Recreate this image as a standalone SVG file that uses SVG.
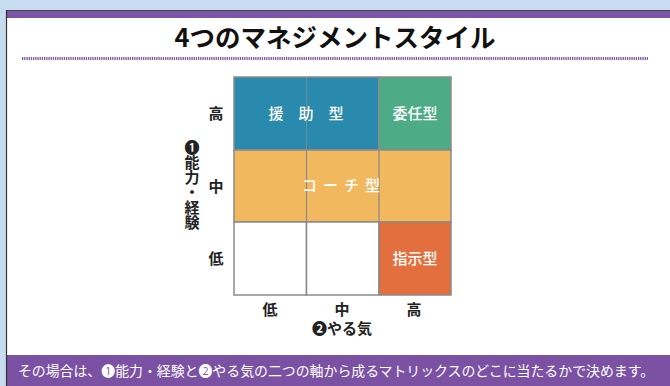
<svg xmlns="http://www.w3.org/2000/svg" width="670" height="386" viewBox="0 0 670 386">
<style>
.jp{font-family:"Noto Sans CJK JP","Noto Sans",sans-serif;}
.ax{font-size:15px;font-weight:700;fill:#222;text-anchor:middle;}
.cl{font-size:15px;font-weight:500;fill:#fff;text-anchor:middle;}
.cell{stroke:#8a8a8a;stroke-width:1.5;}
</style>
<rect x="0" y="0" width="670" height="386" fill="#c8dcef"/>
<rect x="6" y="10" width="664" height="376" fill="#fff"/>
<rect x="6" y="10" width="664" height="8" fill="#7d55a6"/>
<line x1="6" y1="10.5" x2="670" y2="10.5" stroke="#444" stroke-width="1"/>
<rect x="6" y="355" width="664" height="31" fill="#7b52a3"/>
<line x1="6.5" y1="10" x2="6.5" y2="386" stroke="#333" stroke-width="1.2"/>
<text class="jp" x="335" y="47" font-size="25.5" font-weight="700" fill="#111" text-anchor="middle">4つのマネジメントスタイル</text>
<line x1="22" y1="58.5" x2="648" y2="58.5" stroke="#7e58aa" stroke-width="3" stroke-dasharray="1.3 0.9"/>
<g id="cell-enjo">
<rect class="cell" x="234" y="77" width="145" height="73" fill="#2a8aad"/>
<line x1="306.5" y1="77" x2="306.5" y2="150" stroke="#6f8f9c" stroke-width="1"/>
<text class="jp cl" x="306" y="119">援　助　型</text>
</g>
<g id="cell-inin">
<rect class="cell" x="379" y="77" width="72" height="73" fill="#4dab86"/>
<text class="jp cl" x="415" y="119">委任型</text>
</g>
<g id="cell-coach">
<rect class="cell" x="234" y="150" width="217" height="72" fill="#f1b85e"/>
<line x1="306.5" y1="150" x2="306.5" y2="222" stroke="#8a8a8a" stroke-width="1.2"/>
<line x1="379" y1="150" x2="379" y2="222" stroke="#8a8a8a" stroke-width="1.2"/>
<text class="jp cl" x="344" y="191" letter-spacing="6">コーチ型</text>
</g>
<g id="cell-low1"><rect class="cell" x="234" y="222" width="72.5" height="73" fill="#fff"/></g>
<g id="cell-low2"><rect class="cell" x="306.5" y="222" width="72.5" height="73" fill="#fff"/></g>
<g id="cell-shiji">
<rect class="cell" x="379" y="222" width="72" height="73" fill="#e46f3e"/>
<text class="jp cl" x="415" y="264">指示型</text>
</g>
<g id="y-axis">
<text class="jp ax" x="216" y="119">高</text>
<text class="jp ax" x="216" y="192">中</text>
<text class="jp ax" x="216" y="264">低</text>
<text class="jp" x="192" y="140" font-size="15" font-weight="700" fill="#222" style="writing-mode:vertical-rl;glyph-orientation-vertical:0" text-anchor="start">❶能力・経験</text>
</g>
<g id="x-axis">
<text class="jp ax" x="270" y="315">低</text>
<text class="jp ax" x="342" y="315">中</text>
<text class="jp ax" x="414" y="315">高</text>
<text class="jp ax" x="342" y="334" font-size="14">❷やる気</text>
</g>
<text class="jp" x="336" y="376" font-size="13.9" fill="#fff" text-anchor="middle">その場合は、❶能力・経験と❷やる気の二つの軸から成るマトリックスのどこに当たるかで決めます。</text>
</svg>
